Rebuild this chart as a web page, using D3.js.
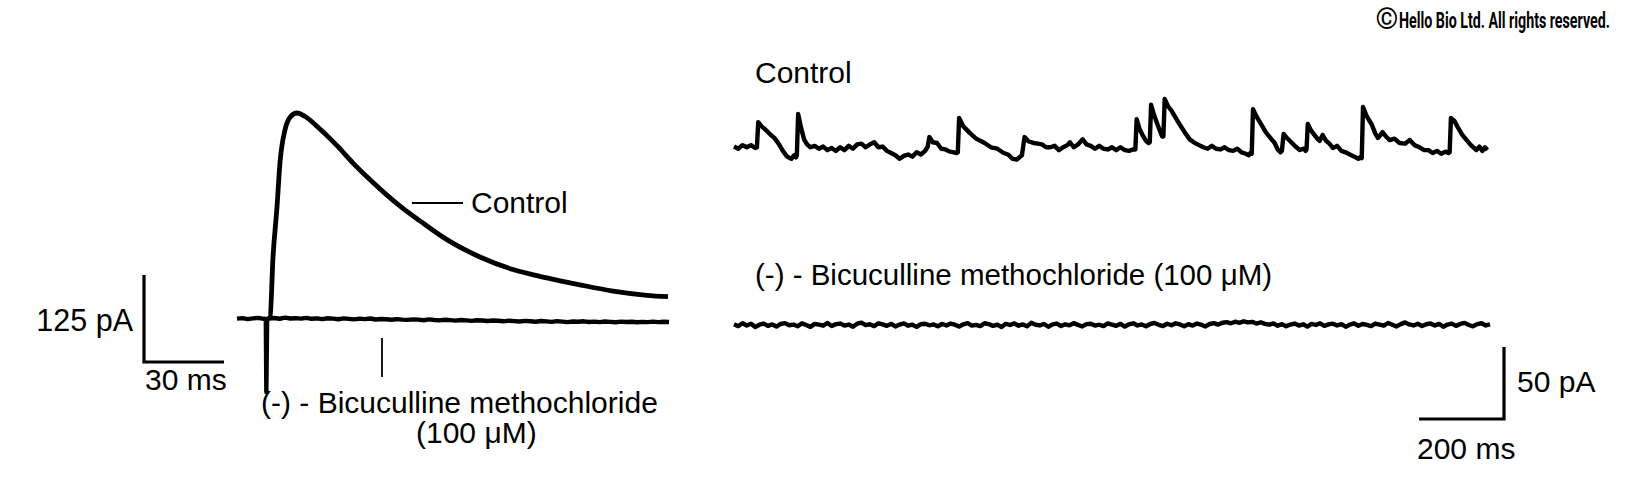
<!DOCTYPE html>
<html>
<head>
<meta charset="utf-8">
<script src="https://cdn.jsdelivr.net/npm/d3@7"></script>
<style>
  html, body { margin: 0; padding: 0; background: #fff; }
  svg { display: block; }
  text { font-family: "Liberation Sans", Arial, sans-serif; fill: #000; }
</style>
</head>
<body>
<svg id="chart" width="1639" height="501"></svg>
<script>
// ---------------- DATA ----------------
// Left panel: evoked IPSC (time in ms, current in pA)
const leftCtrlTime = [11.5, 12.4, 13.5, 15.0, 16.1, 18.0, 19.9, 22.5, 25.5, 31.1, 37.5, 43.5, 49.9, 56.2, 62.2, 68.6, 78.7, 91.1, 103.5, 116.2, 128.6, 141.0, 153.7, 161.6];
const leftCtrlCurrent = [0, 2, 89, 161, 224, 272, 290, 296, 291, 273, 249, 224, 200, 178, 159, 141, 114, 89, 71, 59, 49, 40, 34, 32];

const leftBicTime = [0, 2, 4, 6, 8, 10, 10.8, 11.0, 11.3,
  12, 14, 16, 18, 20, 22, 24, 26, 28, 30, 32, 34, 36, 38, 40, 42, 44, 46, 48, 50,
  52, 54, 56, 58, 60, 62, 64, 66, 68, 70, 72, 74, 76, 78, 80, 82, 84, 86, 88, 90,
  92, 94, 96, 98, 100, 102, 104, 106, 108, 110, 112, 114, 116, 118, 120, 122, 124, 126, 128, 130,
  132, 134, 136, 138, 140, 142, 144, 146, 148, 150, 152, 154, 156, 158, 160, 162];
const leftBicCurrent = [0.5, 1.2, -0.3, 0.8, 1.5, 0.2, 0, -105, 0,
  0.6, 1.4, 0.3, 1.8, 0.7, 1.1, 0.4, 1.6, 0.2, 0.9, -0.2, 1.0, 0.5, -0.4, 0.8, 0.1, -0.6, 0.4, -0.3, 0.6,
  -0.8, 0.0, -0.5, -1.2, -0.2, -0.9, -1.4, -0.6, -1.0, -1.8, -0.7, -1.5, -2.1, -1.2, -1.7, -2.4, -1.5, -2.0, -2.8, -1.9,
  -2.3, -3.0, -2.2, -2.6, -3.4, -2.5, -3.1, -3.7, -2.8, -3.3, -4.0, -3.0, -3.5, -4.2, -3.2, -3.8, -4.5, -3.6, -4.1, -3.4,
  -4.4, -3.9, -4.6, -3.7, -4.2, -4.8, -3.9, -4.4, -4.0, -4.7, -4.2, -4.5, -3.9, -4.6, -4.1, -4.4];

// Right panel: spontaneous IPSCs (time in ms, current in pA)
const rightCtrlTime = [0, 10, 20, 30, 40, 50,
  54, 57, 65, 75, 85, 95, 105, 115, 125, 135, 142, 146,
  148, 151, 158, 165, 172, 180, 190, 200, 210, 220, 230, 240, 250, 260, 270, 280, 290, 300, 310, 320, 330, 340, 350, 360, 370, 380, 390, 400, 410, 420, 430, 440, 450,
  456, 460, 468, 478, 488, 498, 508, 518, 524,
  527, 530, 540, 555, 570, 590, 605, 620, 635, 645, 656, 666, 674,
  678, 684, 694, 705, 715, 725, 735, 745, 755, 765, 775, 785, 791, 800, 810, 821, 830, 840, 850, 860, 870, 880, 890, 900, 910, 920, 930, 940,
  945, 948, 955, 962, 970, 976,
  979, 982, 990, 1000, 1008,
  1011, 1014, 1022, 1030, 1038, 1048, 1061, 1073, 1085, 1095, 1105, 1115, 1125, 1135, 1145, 1155, 1165, 1175, 1185, 1195, 1205, 1212, 1217,
  1219, 1222, 1230, 1242, 1252, 1263, 1273, 1280, 1287,
  1290, 1294, 1302, 1312, 1322, 1332, 1342, 1346,
  1348, 1351, 1359, 1367, 1375, 1379, 1386, 1394, 1402, 1410, 1420, 1430, 1440, 1450, 1460, 1470, 1476,
  1478, 1481, 1490, 1502, 1510, 1516, 1522, 1527, 1535, 1544, 1555, 1567, 1580, 1591, 1602, 1614, 1625, 1635, 1645, 1655, 1665, 1675, 1682,
  1685, 1688, 1696, 1705, 1715, 1725, 1735, 1748, 1755, 1762, 1768, 1774];
const rightCtrlCurrent = [1, -0.5, 2, 0.5, 2, 0,
  0.5, 18, 15, 12.5, 9.5, 7, 3, -2, -6, -7.5, -5, -6.5,
  -5, 23.6, 14, 6, 2.5, 0.5, 1.5, -0.5, 1, -1.5, 0, -2, 0.5, -1.5, 1.5, -0.5, 2.5, 3, 0.5, 2.5, 4, 0.5, 1, -2, -3.5, -5, -7.5, -5.5, -4.5, -6, -3, -4.5, -2,
  1, 7.6, 4, 3.5, -0.5, -1, -2.5, -3, -3.5,
  -3, 20.8, 15, 10.5, 6.5, 3.5, 0.5, -0.5, -3.5, -4.5, -7.5, -8, -6,
  -5, 7.6, 4.5, 3.5, 3, 2.5, 0.5, 0.5, 1.5, -1.5, 0.5, 2, 4, 0.5, 2.5, 6, 2.5, 1.5, -0.5, 1.5, -0.5, -1, 0.5, -1.5, 0.5, -1.5, -2, -1,
  -1, 20, 13, 9, 5, 3.5,
  4, 30, 22, 14, 8,
  8, 34, 29, 26, 22, 17, 11, 6, 3.5, 2, 0.5, -0.5, 1.5, -0.5, -1, 0.5, -1.5, -2, -0.5, -3, -4, -5, -3,
  -4, 27, 22, 16, 11, 7, 3.5, -1, -3,
  -2, 9.7, 7, 4, 1, -1.4, -0.5, -2,
  -1, 16.7, 12, 9, 6, 5, 9, 5, 3, 0, 1.5, -2, -3, -4.5, -6, -7.5, -6,
  -7, 28.5, 22, 16, 10, 7, 9, 11, 8, 5.5, 6.5, 3.5, 3, 5.5, 2, 0.5, -1.5, -1.5, -3.5, -2, -4, -2.5, -3.5,
  -3, 20.8, 18.8, 14, 9, 5.5, 2, -1.4, 1, -2, 0.5, -1.4];

const rightBicTime = [0, 10, 20, 30, 40, 50, 60, 70, 80, 90, 100, 110, 120, 130, 140, 150, 160, 170, 180, 190,
  200, 210, 220, 230, 240, 250, 260, 270, 280, 290, 300, 310, 320, 330, 340, 350, 360, 370, 380, 390,
  400, 410, 420, 430, 440, 450, 460, 470, 480, 490, 500, 510, 520, 530, 540, 550, 560, 570, 580, 590,
  600, 610, 620, 630, 640, 650, 660, 670, 680, 690, 700, 710, 720, 730, 740, 750, 760, 770, 780, 790,
  800, 810, 820, 830, 840, 850, 860, 870, 880, 890, 900, 910, 920, 930, 940, 950, 960, 970, 980, 990,
  1000, 1010, 1020, 1030, 1040, 1050, 1060, 1070, 1080, 1090, 1100, 1110, 1120, 1130, 1140, 1150, 1160, 1170, 1180, 1190,
  1200, 1210, 1220, 1230, 1240, 1250, 1260, 1270, 1280, 1290, 1300, 1310, 1320, 1330, 1340, 1350, 1360, 1370, 1380, 1390,
  1400, 1410, 1420, 1430, 1440, 1450, 1460, 1470, 1480, 1490, 1500, 1510, 1520, 1530, 1540, 1550, 1560, 1570, 1580, 1590,
  1600, 1610, 1620, 1630, 1640, 1650, 1660, 1670, 1680, 1690, 1700, 1710, 1720, 1730, 1740, 1750, 1760, 1770, 1780];
const rightBicCurrent = [0.5, -0.8, 1.2, -0.3, 0.9, -1.4, 0.2, 1.0, -0.6, 0.4, -1.1, 0.7, 1.3, -0.2, 0.3, -0.9, 1.1, 0.0, -1.3, 0.8,
  0.2, -0.5, 1.4, -0.7, 0.6, 1.0, -0.4, 0.3, -1.2, 0.9, 1.6, -0.1, 0.5, -0.8, 1.2, 0.4, -0.6, 0.8, -1.0, 0.3,
  1.1, -0.5, 0.2, -1.3, 0.6, 0.9, -0.2, 0.4, -0.9, 0.7, -0.3, 1.0, 0.2, -1.1, 0.5, 1.3, -0.4, 0.1, -0.8, 1.2,
  0.6, -0.6, 0.3, -1.4, 0.8, 0.0, 1.1, -0.5, 0.4, -0.9, 1.5, 0.2, -0.3, 0.7, -1.2, 0.4, 1.0, -0.7, 0.5, -0.2,
  1.3, 0.1, -1.0, 0.6, 0.9, -0.4, 0.2, -0.8, 1.1, 0.3, -0.6, 0.8, -1.1, 0.5, 1.2, -0.3, 0.4, -0.9, 0.7, 1.4,
  0.1, -0.7, 0.9, -0.2, 1.2, 0.4, -0.9, 0.6, -0.4, 1.0, 0.2, -1.0, 0.7, 1.3, 0.3, 1.6, 2.0, 1.2, 2.3, 1.5,
  2.6, 1.8, 2.2, 1.0, 1.9, 0.8, 0.2, 1.1, -0.5, 0.6, -0.9, 0.3, 1.0, -0.4, 0.5, -1.1, 0.8, 0.0, 1.2, -0.6,
  0.4, 0.9, -0.3, 0.6, -1.2, 0.2, 1.1, -0.5, 0.7, 0.1, -0.8, 1.0, 0.3, -0.5, 1.4, 0.2, -1.0, 0.6, 1.8, 0.4,
  -0.3, 0.9, -0.7, 0.5, 1.1, -0.4, 0.8, -1.2, 0.3, 1.0, -0.6, 0.7, 1.5, 0.0, -0.9, 0.6, 1.2, -0.3, 0.5];

// Scale-bar values and labels
const leftScaleBar = { current: 125, time: 30 };
const rightScaleBar = { current: 50, time: 200 };
const leftLabels = ["Control", "(-) - Bicuculline methochloride", "(100 \u03BCM)", "125 pA", "30 ms"];
const rightLabels = ["Control", "(-) - Bicuculline methochloride (100 \u03BCM)", "50 pA", "200 ms"];
const copyrightText = "Hello Bio Ltd. All rights reserved.";

// ---------------- DRAW ----------------
const svg = d3.select("#chart");
svg.append("rect").attr("width", 1639).attr("height", 501).attr("fill", "#fff");

const zip = (t, v) => t.map((d, i) => [d, v[i]]);

// Left panel scales
const xL = d3.scaleLinear().domain([0, 161.6]).range([237, 668]);
const yL = d3.scaleLinear().domain([-105, 296]).range([392, 113]);

svg.append("path")
  .datum(zip(leftBicTime, leftBicCurrent))
  .attr("fill", "none").attr("stroke", "#000").attr("stroke-width", 4.4)
  .attr("stroke-linejoin", "round")
  .attr("d", d3.line().x(d => xL(d[0])).y(d => yL(d[1])));

svg.append("path")
  .datum(zip(leftCtrlTime, leftCtrlCurrent))
  .attr("fill", "none").attr("stroke", "#000").attr("stroke-width", 4.8)
  .attr("stroke-linejoin", "round")
  .attr("d", d3.line().curve(d3.curveMonotoneX).x(d => xL(d[0])).y(d => yL(d[1])));

// Left scale bar
const lsbX = 144, lsbY = 362;
const lsbH = yL(0) - yL(leftScaleBar.current);
const lsbW = xL(leftScaleBar.time) - xL(0);
svg.append("path")
  .attr("d", `M${lsbX},${lsbY - lsbH} L${lsbX},${lsbY} L${lsbX + lsbW},${lsbY}`)
  .attr("fill", "none").attr("stroke", "#000").attr("stroke-width", 3.2);
svg.append("text").attr("x", 133).attr("y", 331).attr("text-anchor", "end")
  .attr("font-size", 30.5).text(leftLabels[3]);
svg.append("text").attr("x", 145).attr("y", 390).attr("font-size", 30).text(leftLabels[4]);

// Left labels
svg.append("line").attr("x1", 412).attr("x2", 463).attr("y1", 203).attr("y2", 203)
  .attr("stroke", "#000").attr("stroke-width", 2);
svg.append("text").attr("x", 471).attr("y", 213).attr("font-size", 30).text(leftLabels[0]);
svg.append("line").attr("x1", 382).attr("x2", 382).attr("y1", 338).attr("y2", 377)
  .attr("stroke", "#000").attr("stroke-width", 1.8);
svg.append("text").attr("x", 261).attr("y", 413).attr("font-size", 30).text(leftLabels[1]);
svg.append("text").attr("x", 416).attr("y", 443).attr("font-size", 30).text(leftLabels[2]);

// Right panel scales
const xR = d3.scaleLinear().domain([0, 1780]).range([734, 1490]);
const yRC = d3.scaleLinear().domain([0, 50]).range([148, 76]);
const yRB = d3.scaleLinear().domain([0, 50]).range([325, 253]);

svg.append("path")
  .datum(zip(rightCtrlTime, rightCtrlCurrent))
  .attr("fill", "none").attr("stroke", "#000").attr("stroke-width", 4.4)
  .attr("stroke-linejoin", "round")
  .attr("d", d3.line().x(d => xR(d[0])).y(d => yRC(d[1])));

svg.append("path")
  .datum(zip(rightBicTime, rightBicCurrent))
  .attr("fill", "none").attr("stroke", "#000").attr("stroke-width", 4.4)
  .attr("stroke-linejoin", "round")
  .attr("d", d3.line().x(d => xR(d[0])).y(d => yRB(d[1])));

svg.append("text").attr("x", 755).attr("y", 83).attr("font-size", 30).text(rightLabels[0]);
svg.append("text").attr("x", 755).attr("y", 285).attr("font-size", 29.5).text(rightLabels[1]);

// Right scale bar
const rsbX = 1504, rsbY = 419;
const rsbH = yRC(0) - yRC(rightScaleBar.current);
const rsbW = xR(rightScaleBar.time) - xR(0);
svg.append("path")
  .attr("d", `M${rsbX - rsbW},${rsbY} L${rsbX},${rsbY} L${rsbX},${rsbY - rsbH}`)
  .attr("fill", "none").attr("stroke", "#000").attr("stroke-width", 3.2);
svg.append("text").attr("x", 1517).attr("y", 392).attr("font-size", 30).text(rightLabels[2]);
svg.append("text").attr("x", 1417).attr("y", 459).attr("font-size", 30).text(rightLabels[3]);

// Copyright (condensed by horizontal scaling to the reference width)
svg.append("text").attr("x", 1387).attr("y", 29).attr("text-anchor", "middle")
  .style("font-family", "Roboto, 'DejaVu Sans', sans-serif").attr("font-size", 29).attr("font-weight", 400)
  .text("\u00A9");
const cr = svg.append("text").attr("x", 0).attr("y", 0)
  .style("font-family", "Roboto, 'DejaVu Sans', sans-serif").attr("font-size", 22).attr("font-weight", 700)
  .text(copyrightText);
const crW = cr.node().getComputedTextLength();
cr.attr("transform", `translate(1399,28) scale(${211 / crW},1)`);
</script>
</body>
</html>
